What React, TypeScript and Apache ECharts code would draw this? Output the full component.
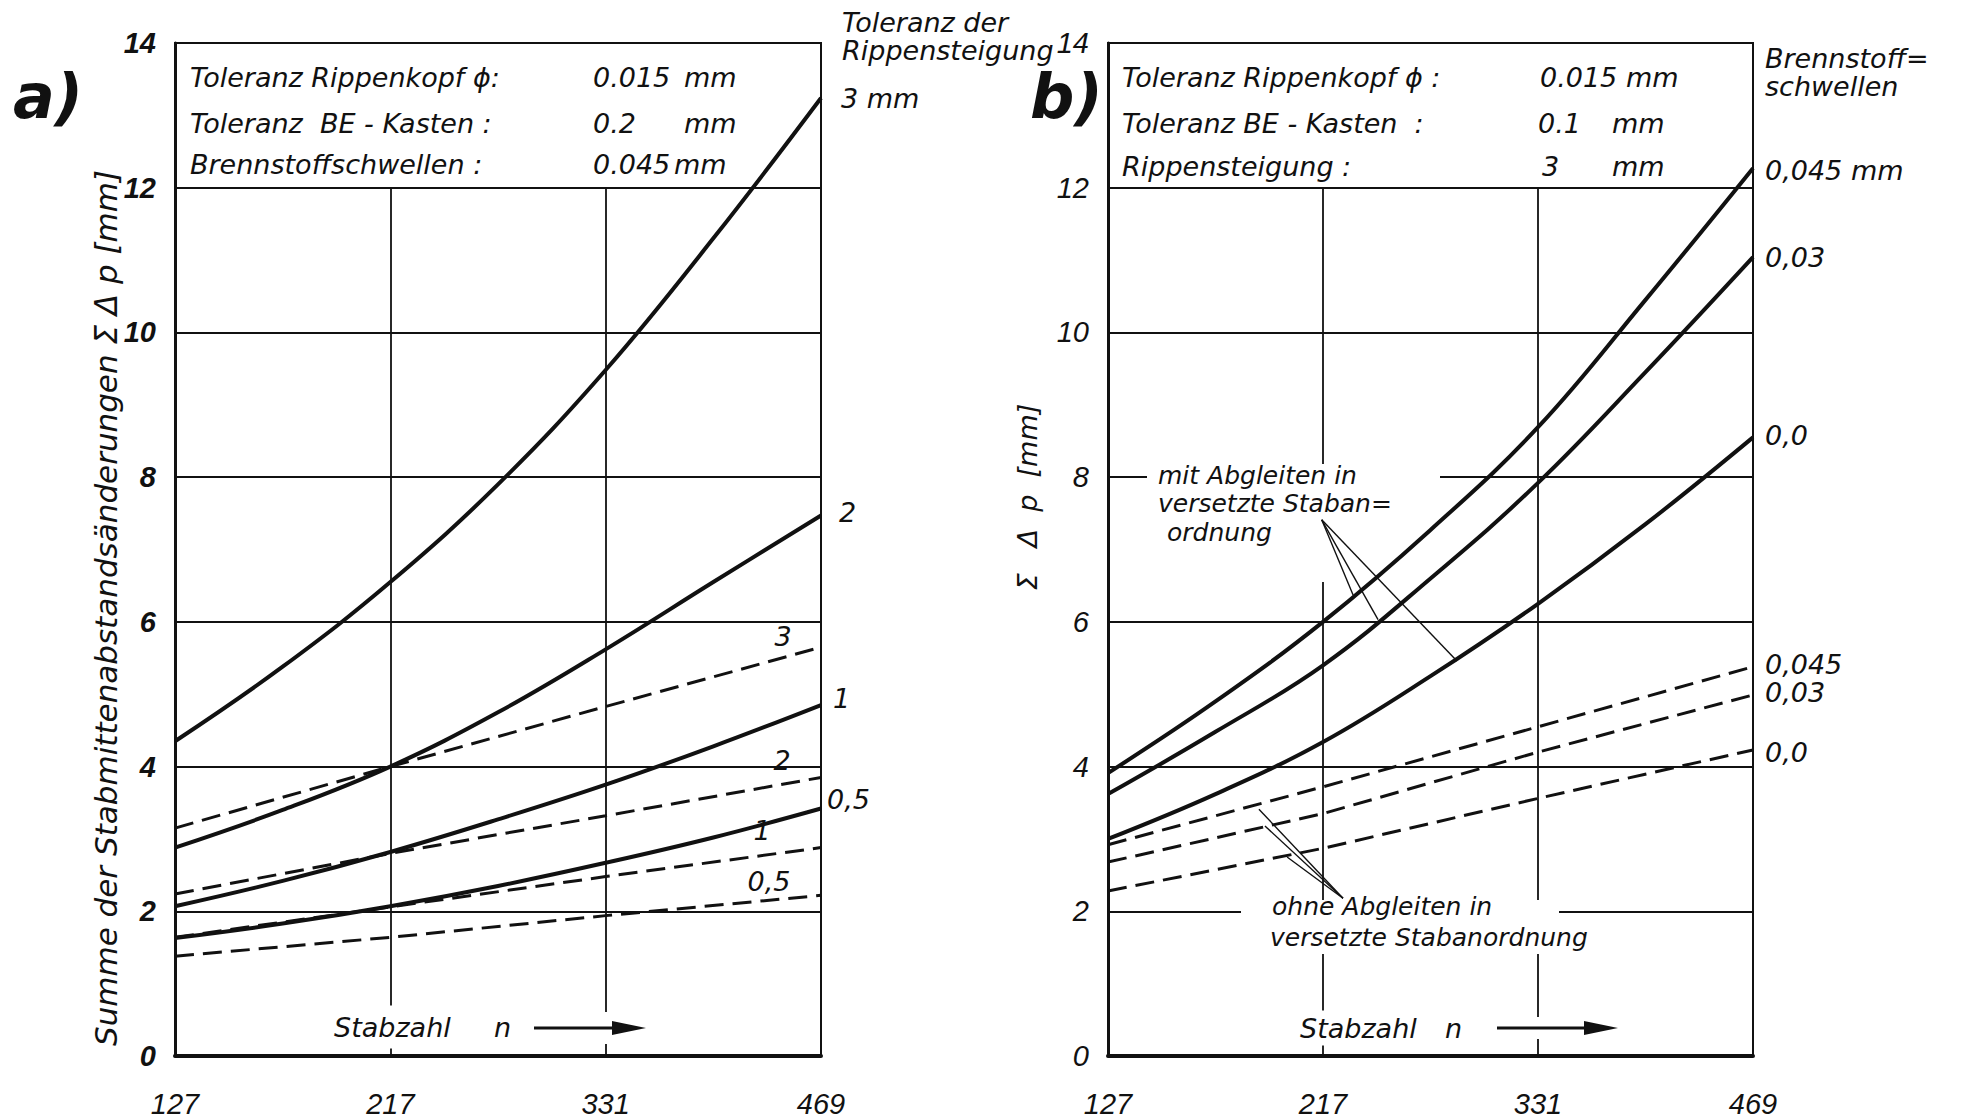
import React, { useEffect, useRef } from "react";
import * as echarts from "echarts";

// ---------- data ----------
const nLabels = ["127", "217", "331", "469"];
const xFine = [0, 0.5, 1, 1.5, 2, 2.5, 3];
const xCoarse = [0, 1, 2, 3];
const yTicks = [0, 2, 4, 6, 8, 10, 12, 14];

// panel a) – solid: Toleranz der Rippensteigung (mit Abgleiten), dashed: ohne
const aSolid3 = [4.35, 5.38, 6.55, 7.9, 9.48, 11.3, 13.24];
const aSolid2 = [2.88, 3.4, 4.0, 4.75, 5.62, 6.55, 7.47];
const aSolid1 = [2.07, 2.42, 2.82, 3.27, 3.75, 4.28, 4.85];
const aSolid05 = [1.63, 1.83, 2.07, 2.35, 2.67, 3.02, 3.42];
const aDash3 = [3.15, 4.0, 4.83, 5.65];
const aDash2 = [2.24, 2.8, 3.32, 3.85];
const aDash1 = [1.64, 2.06, 2.48, 2.88];
const aDash05 = [1.38, 1.64, 1.94, 2.22];

// panel b) – Brennstoffschwellen
const bSolid045 = [3.91, 4.9, 6.0, 7.27, 8.69, 10.45, 12.27];
const bSolid03 = [3.62, 4.48, 5.4, 6.6, 7.92, 9.45, 11.04];
const bSolid00 = [3.0, 3.62, 4.34, 5.25, 6.25, 7.35, 8.55];
const bDash045 = [2.92, 3.72, 4.55, 5.38];
const bDash03 = [2.68, 3.35, 4.2, 4.99];
const bDash00 = [2.28, 2.87, 3.56, 4.23];

// annotation leader lines (data coordinates, panel b)
const mitOrigin = [0.994, 7.41];
const mitEnds = [[1.14, 6.37], [1.256, 6.03], [1.623, 5.46]];
const ohneOrigin = [1.093, 2.18];
const ohneEnds = [[0.702, 3.41], [0.73, 3.18], [0.833, 2.75]];

// vertical grid segments [x, yFrom, yTo]
const vGridA = [[1, 0, 12], [2, 0, 12]];
const vGridB = [[1, 0, 6.55], [1, 8.15, 12], [2, 0, 12]];

const TXT = "'DejaVu Sans', 'Liberation Sans', sans-serif";
const NUM = "'Liberation Sans Narrow', 'Liberation Sans', sans-serif";
const INK = "#111";

function endMark(x: number, y: number, text: string, dx: number, dy: number, align: string) {
  return {
    symbol: "rect",
    symbolSize: 1,
    silent: true,
    itemStyle: { color: "transparent" },
    data: [{ coord: [x, y] }],
    label: {
      show: true,
      position: "inside",
      formatter: text,
      offset: [dx, dy],
      align,
      verticalAlign: "middle",
      color: INK,
      fontSize: 27,
      fontStyle: "italic",
      fontFamily: TXT,
    },
  };
}

function curve(
  gi: number,
  xs: number[],
  ys: number[],
  dashed: boolean,
  label: string,
  dx: number,
  dy: number,
  align: string
) {
  return {
    type: "line",
    xAxisIndex: gi,
    yAxisIndex: gi,
    data: xs.map((x, i) => [x, ys[i]]),
    smooth: dashed ? false : 0.4,
    symbol: "none",
    silent: true,
    z: 5,
    lineStyle: dashed
      ? { color: INK, width: 3, type: [19, 9] }
      : { color: INK, width: 4, type: "solid" },
    markPoint: endMark(xs[xs.length - 1], ys[ys.length - 1], label, dx, dy, align),
  };
}

function helperSeries(gi: number, lines: any[], width: number) {
  return {
    type: "line",
    xAxisIndex: gi,
    yAxisIndex: gi,
    data: [],
    silent: true,
    z: 3,
    markLine: {
      silent: true,
      symbol: ["none", "none"],
      label: { show: false },
      lineStyle: { color: INK, width, type: "solid" },
      data: lines,
    },
  };
}

function txt(x: number, y: number, text: string, size: number, extra: any = {}) {
  return {
    type: "text",
    x,
    y,
    z: 100,
    silent: true,
    rotation: extra.rotation || 0,
    style: {
      text,
      fill: INK,
      font: `italic ${extra.bold ? "bold " : ""}${size}px ${extra.font || TXT}`,
      textAlign: extra.align || "left",
      align: extra.align || "left",
      textVerticalAlign: "middle",
      verticalAlign: "middle",
      backgroundColor: extra.bg,
      padding: extra.padding,
    },
  };
}

function whiteRect(x: number, y: number, w: number, h: number) {
  return { type: "rect", z: 99, silent: true, shape: { x, y, width: w, height: h }, style: { fill: "#fff" } };
}

function arrow(x0: number, x1: number, y: number, gapX: number, gapTop: number, gapBot: number) {
  return [
    whiteRect(gapX - 7, gapTop, 14, gapBot - gapTop),
    { type: "line", z: 100, silent: true, shape: { x1: x0, y1: y, x2: x1 - 30, y2: y }, style: { stroke: INK, lineWidth: 3 } },
    { type: "polygon", z: 100, silent: true, shape: { points: [[x1 - 34, y - 7], [x1, y], [x1 - 34, y + 7]] }, style: { fill: INK } },
  ];
}

export default function App() {
  const ref = useRef<HTMLDivElement>(null);

  useEffect(() => {
    document.body.style.margin = "0";
    const chart = echarts.init(ref.current!, null, { renderer: "svg" });

    const axisX = (gi: number) => ({
      type: "value",
      gridIndex: gi,
      min: 0,
      max: 3,
      interval: 1,
      axisLine: { show: true, lineStyle: { color: INK, width: 4 } },
      axisTick: { show: false },
      splitLine: { show: false },
      axisLabel: {
        formatter: (v: number) => nLabels[Math.round(v)] ?? "",
        margin: 33,
        color: INK,
        fontSize: 29,
        fontStyle: "italic",
        fontFamily: NUM,
      },
    });
    const axisY = (gi: number, bold: boolean) => ({
      type: "value",
      gridIndex: gi,
      min: yTicks[0],
      max: yTicks[yTicks.length - 1],
      interval: 2,
      axisLine: { show: true, lineStyle: { color: INK, width: 3 } },
      axisTick: { show: false },
      splitLine: { show: true, lineStyle: { color: INK, width: 1.8 } },
      axisLabel: {
        margin: 19,
        color: INK,
        fontSize: 29,
        fontStyle: "italic",
        fontWeight: bold ? "bold" : "normal",
        fontFamily: NUM,
      },
    });

    const seg = (arr: number[][]) =>
      arr.map(([x, y0, y1]) => [{ coord: [x, y0] }, { coord: [x, y1] }]);
    const leaders = (o: number[], ends: number[][]) =>
      ends.map((e) => [{ coord: o }, { coord: e }]);

    const option: any = {
      animation: false,
      backgroundColor: "#fff",
      grid: [
        { left: 175, top: 43, width: 646, height: 1013, show: true, borderColor: INK, borderWidth: 2, backgroundColor: "transparent" },
        { left: 1108, top: 43, width: 645, height: 1013, show: true, borderColor: INK, borderWidth: 2, backgroundColor: "transparent" },
      ],
      xAxis: [axisX(0), axisX(1)],
      yAxis: [axisY(0, true), axisY(1, false)],
      series: [
        helperSeries(0, seg(vGridA), 1.8),
        helperSeries(1, seg(vGridB), 1.8),
        helperSeries(1, [...leaders(mitOrigin, mitEnds), ...leaders(ohneOrigin, ohneEnds)], 1.4),
        curve(0, xFine, aSolid3, false, "3 mm", 20, 1, "left"),
        curve(0, xFine, aSolid2, false, "2", 18, -3, "left"),
        curve(0, xFine, aSolid1, false, "1", 12, -7, "left"),
        curve(0, xFine, aSolid05, false, "0,5", 6, -9, "left"),
        curve(0, xCoarse, aDash3, true, "3", -38, -11, "center"),
        curve(0, xCoarse, aDash2, true, "2", -39, -17, "center"),
        curve(0, xCoarse, aDash1, true, "1", -59, -17, "center"),
        curve(0, xCoarse, aDash05, true, "0,5", -52, -14, "center"),
        curve(1, xFine, bSolid045, false, "0,045 mm", 12, 2, "left"),
        curve(1, xFine, bSolid03, false, "0,03", 12, 0, "left"),
        curve(1, xFine, bSolid00, false, "0,0", 12, -2, "left"),
        curve(1, xCoarse, bDash045, true, "0,045", 12, -2, "left"),
        curve(1, xCoarse, bDash03, true, "0,03", 12, -2, "left"),
        curve(1, xCoarse, bDash00, true, "0,0", 12, 3, "left"),
      ],
      graphic: {
        elements: [
          // panel labels
          txt(13, 96, "a)", 62, { bold: true }),
          txt(1030, 96, "b)", 62, { bold: true }),
          // y-axis names
          txt(106, 608, "Summe der Stabmittenabstandsänderungen Σ Δ p [mm]", 31, { rotation: Math.PI / 2, align: "center" }),
          txt(1027, 497, "Σ   Δ  p  [mm]", 27, { rotation: Math.PI / 2, align: "center" }),
          // panel a info box
          txt(190, 77, "Toleranz Rippenkopf ϕ:", 27),
          txt(593, 77, "0.015", 27),
          txt(684, 77, "mm", 27),
          txt(190, 123, "Toleranz  BE - Kasten :", 27),
          txt(593, 123, "0.2", 27),
          txt(684, 123, "mm", 27),
          txt(190, 164, "Brennstoffschwellen :", 27),
          txt(593, 164, "0.045", 27),
          txt(674, 164, "mm", 27),
          // panel b info box
          txt(1122, 77, "Toleranz Rippenkopf ϕ :", 27),
          txt(1540, 77, "0.015 mm", 27),
          txt(1122, 123, "Toleranz BE - Kasten  :", 27),
          txt(1538, 123, "0.1", 27),
          txt(1612, 123, "mm", 27),
          txt(1122, 166, "Rippensteigung :", 27),
          txt(1542, 166, "3", 27),
          txt(1612, 166, "mm", 27),
          // right-side headings
          txt(842, 22, "Toleranz der", 27),
          txt(842, 50, "Rippensteigung", 27),
          txt(1765, 58, "Brennstoff=", 27),
          txt(1765, 86, "schwellen", 27),
          // Stabzahl n arrows
          txt(330, 1027, "Stabzahl", 27, { bg: "#fff", padding: [16, 4, 0, 4] }),
          txt(494, 1027, "n", 27),
          ...arrow(534, 646, 1028, 604, 1012, 1044),
          txt(1296, 1028, "Stabzahl", 27, { bg: "#fff", padding: [8, 4, 0, 4] }),
          txt(1445, 1028, "n", 27),
          ...arrow(1497, 1618, 1028, 1538, 1017, 1039),
          // annotations panel b
          whiteRect(1147, 464, 293, 24),
          txt(1158, 475, "mit Abgleiten in", 25),
          txt(1158, 503, "versetzte Staban=", 25),
          txt(1167, 532, "ordnung", 25),
          whiteRect(1241, 900, 318, 54),
          txt(1272, 906, "ohne Abgleiten in", 25),
          txt(1270, 937, "versetzte Stabanordnung", 25),
        ],
      },
    };

    chart.setOption(option);
    return () => chart.dispose();
  }, []);

  return <div ref={ref} style={{ width: 1968, height: 1119, background: "#fff" }} />;
}
